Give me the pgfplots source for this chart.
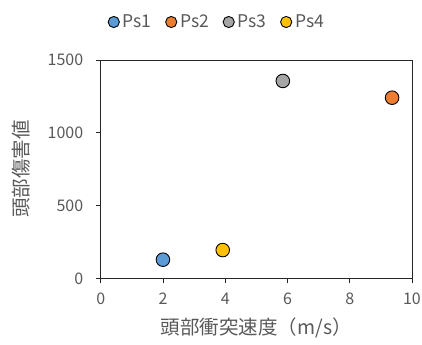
\documentclass[border=0pt]{standalone}
\usepackage{fontspec}
\setmainfont{Noto Sans CJK JP}
\usepackage{pgfplots}
\pgfplotsset{compat=1.18}
\definecolor{cblue}{HTML}{5B9BD5}
\definecolor{corange}{HTML}{ED7D31}
\definecolor{cgray}{HTML}{A5A5A5}
\definecolor{cyellow}{HTML}{FFC000}
\definecolor{txt}{HTML}{595959}
\begin{document}
\begin{tikzpicture}[x=1bp,y=1bp]
\path[use as bounding box] (-100.7,-66.7) rectangle (321.3,278.3);
\begin{axis}[
  at={(0,0)}, anchor=south west,
  scale only axis, width=311.3bp, height=218.3bp,
  xmin=0, xmax=10, ymin=0, ymax=1500,
  xtick={0,2,...,10}, ytick={0,500,1000,1500},
  tick align=outside, tick pos=left,
  major tick length=5bp,
  axis line style={black!85, line width=0.9pt},
  tick style={black!85, line width=0.9pt},
  /pgf/number format/assume math mode=true,
  /pgf/number format/1000 sep={},
  tick label style={font=\fontsize{16bp}{18bp}\selectfont, text=txt},
  xticklabel style={yshift=-6.5bp},
  yticklabel style={xshift=-9bp},
  xlabel={頭部衝突速度（m/s）},
  ylabel={頭部傷害値},
  label style={font=\fontsize{19.5bp}{21bp}\selectfont, text=txt},
  xlabel style={at={(0.5,-0.225)}, anchor=center},
  ylabel style={at={(-0.257,0.5)}, anchor=center},
  legend columns=4,
  legend style={draw=none, fill=none, at={(0.374,1.174)}, anchor=center,
    font=\fontsize{17.5bp}{19bp}\selectfont, text=txt,
    /tikz/every odd column/.append style={column sep=1.5bp},
    /tikz/every even column/.append style={column sep=12bp}},
  legend cell align=left,
  legend image code/.code={\draw[#1, mark size=5.6bp] plot coordinates {(0bp,0bp)};},
]
\addplot[only marks, mark=*, mark size=6.8bp, mark options={fill=cblue, draw=black, line width=0.9pt}] coordinates {(2.0,128)};
\addlegendentry{Ps1}
\addplot[only marks, mark=*, mark size=6.8bp, mark options={fill=corange, draw=black, line width=0.9pt}] coordinates {(9.36,1241)};
\addlegendentry{Ps2}
\addplot[only marks, mark=*, mark size=6.8bp, mark options={fill=cgray, draw=black, line width=0.9pt}] coordinates {(5.85,1356)};
\addlegendentry{Ps3}
\addplot[only marks, mark=*, mark size=6.8bp, mark options={fill=cyellow, draw=black, line width=0.9pt}] coordinates {(3.92,194)};
\addlegendentry{Ps4}
\end{axis}
\end{tikzpicture}
\end{document}
